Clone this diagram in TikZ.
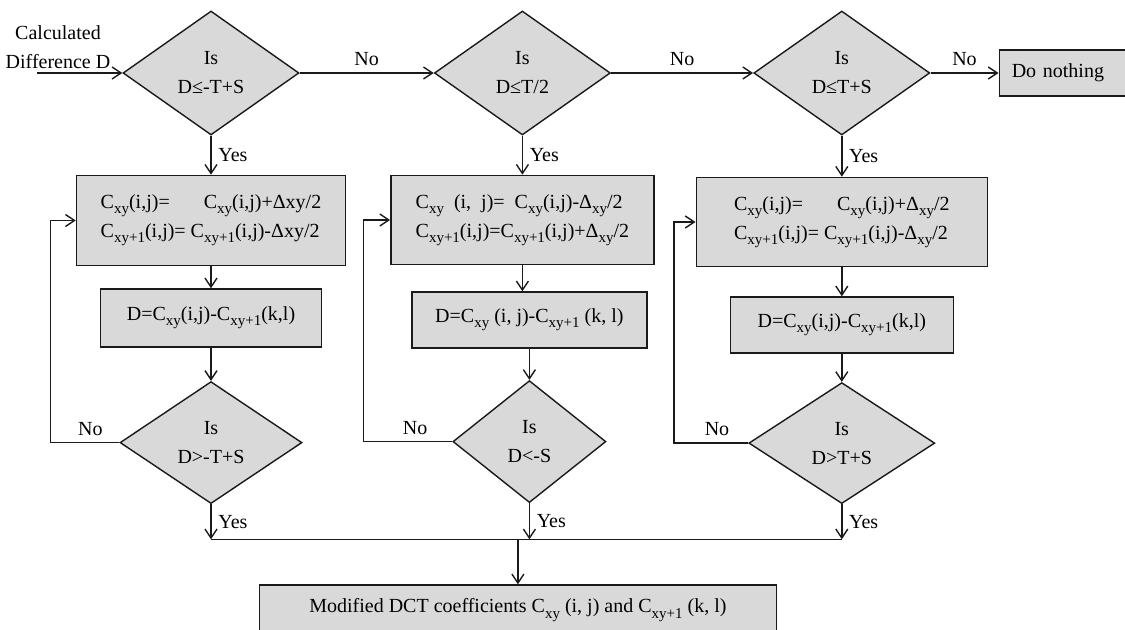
\documentclass[tikz,border=0pt]{standalone}
\usepackage{fontspec}
\setmainfont{Liberation Serif}
\usepackage{tikz}
\usetikzlibrary{arrows.meta,positioning,shapes.geometric}
\definecolor{shade}{HTML}{D9D9D9}
\definecolor{ink}{HTML}{1A1A1A}
\newcommand{\subtxt}[1]{\raisebox{-0.55ex}{\fontsize{7.5}{8}\selectfont #1}}

\begin{document}
\begin{tikzpicture}[
    >={Straight Barb[length=4.5pt,width=6pt]},
    font=\fontsize{10}{14.5}\selectfont,
    dec/.style={diamond,draw=ink,line width=0.7pt,fill=shade,aspect=1.4,inner sep=0pt,
      minimum width=88pt,minimum height=62pt,align=center},
    box/.style={rectangle,draw=ink,line width=0.8pt,fill=shade,align=left},
    flow/.style={->,line width=0.7pt,draw=ink},
    link/.style={line width=0.7pt,draw=ink}]
  \useasboundingbox (0,0) rectangle (562.5pt,-315pt);
  \node[dec] (d1) at (105.5pt,-36.5pt) {Is\\D≤-T+S};
  \node[dec,right=67pt of d1] (d2) {Is\\D≤T/2};
  \node[dec,right=71pt of d2] (d3) {Is\\D≤T+S};
  \node[box,text width=52pt,inner xsep=6.25pt,minimum height=23pt,right=34pt of d3] (none) {Do nothing};
  \node[align=center] (lab) at (29pt,-23.5pt) {Calculated\\Difference D};
  \coordinate[left=42.5pt of d1.west] (start);
  \node[box,minimum width=134.5pt,minimum height=45pt,below=19.5pt of d1] (b1)
    {C\subtxt{xy}(i,j)=\hspace*{17pt}C\subtxt{xy}(i,j)+Δxy/2\\C\subtxt{xy+1}(i,j)= C\subtxt{xy+1}(i,j)-Δxy/2};
  \node[box,minimum width=110.5pt,minimum height=29pt,below=11pt of b1] (c1)
    {D=C\subtxt{xy}(i,j)-C\subtxt{xy+1}(k,l)};
  \node[dec,minimum width=91pt,minimum height=61pt,below=16.5pt of c1] (e1) {Is\\D>-T+S};
  \node[box,minimum width=131.5pt,minimum height=44.5pt,below=19.5pt of d2] (b2)
    {C\subtxt{xy}\ \ (i,\ \ j)=\ \ C\subtxt{xy}(i,j)-Δ\subtxt{xy}/2\\C\subtxt{xy+1}(i,j)=C\subtxt{xy+1}(i,j)+Δ\subtxt{xy}/2};
  \node[box,minimum width=117.5pt,minimum height=28pt,below=13pt of b2,xshift=3.5pt] (c2)
    {D=C\subtxt{xy} (i, j)-C\subtxt{xy+1} (k, l)};
  \node[dec,minimum width=76.5pt,minimum height=61pt,below=15.5pt of c2] (e2) {Is\\D<-S};
  \node[box,minimum width=145.5pt,minimum height=44.5pt,below=20.5pt of d3] (b3)
    {C\subtxt{xy}(i,j)=\hspace*{17pt}C\subtxt{xy}(i,j)+Δ\subtxt{xy}/2\\C\subtxt{xy+1}(i,j)= C\subtxt{xy+1}(i,j)-Δ\subtxt{xy}/2};
  \node[box,minimum width=111.5pt,minimum height=28pt,below=14.5pt of b3] (c3)
    {D=C\subtxt{xy}(i,j)-C\subtxt{xy+1}(k,l)};
  \node[dec,minimum width=93pt,minimum height=60.5pt,below=14pt of c3] (e3) {Is\\D>T+S};
  \coordinate[below=17.5pt of e1.south] (j1);
  \coordinate (j3) at (e3.south |- j1);
  \node[box,align=center,minimum width=258.5pt,minimum height=25pt,below=40.5pt of e2,xshift=-5.75pt] (fin)
    {Modified DCT coefficients C\subtxt{xy} (i, j) and C\subtxt{xy+1} (k, l)};
  \draw[flow] (start) -- (d1);
  \draw[flow] (d1) -- node[above]{No} (d2);
  \draw[flow] (d2) -- node[above]{No} (d3);
  \draw[flow] (d3) -- node[above]{No} (none);
  \draw[flow] (d1) -- node[right]{Yes} (b1);
  \draw[flow] (d2) -- node[right]{Yes} (b2);
  \draw[flow] (d3) -- node[right]{Yes} (b3);
  \draw[flow] (b1) -- (c1);
  \draw[flow] (b2) -- (b2 |- c2.north);
  \draw[flow] (b3) -- (c3);
  \draw[flow] (c1) -- (e1);
  \draw[flow] (c2) -- (e2);
  \draw[flow] (c3) -- (e3);
  \draw[flow] (e1.west) -- node[above,pos=.42]{No} ++(-34.5pt,0) |- (b1.west);
  \draw[flow] (e2.west) -- node[above,pos=.42]{No} ++(-44.25pt,0) |- (b2.west);
  \draw[flow] (e3.west) -- node[above,pos=.42]{No} ++(-37pt,0) |- (b3.west);
  \draw[flow] (e1) -- node[right]{Yes} (j1);
  \draw[flow] (e2) -- node[right]{Yes} (e2 |- j1);
  \draw[flow] (e3) -- node[right]{Yes} (j3);
  \draw[link] (j1) -- (j3);
  \draw[flow] (fin.north |- j1) -- (fin);
\end{tikzpicture}
\end{document}
